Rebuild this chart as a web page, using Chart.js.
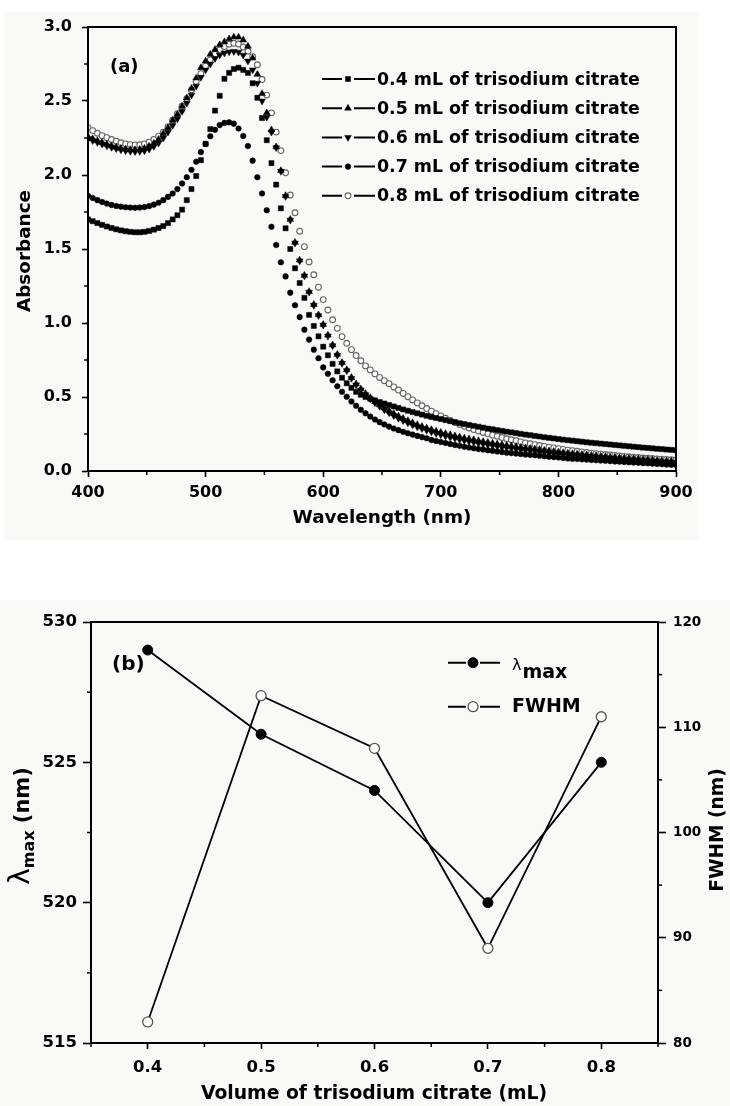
<!DOCTYPE html>
<html><head><meta charset="utf-8">
<script src="https://cdn.jsdelivr.net/npm/chart.js@4.4.1/dist/chart.umd.min.js"></script>
<style>
html,body{margin:0;padding:0;background:#fff;width:730px;height:1106px;overflow:hidden;}
#wa{position:absolute;left:0;top:0;width:730px;height:540px;}
#wb{position:absolute;left:0;top:560px;width:730px;height:546px;}
canvas{display:block;}
</style></head><body>
<div id="wa"><canvas id="ca" width="730" height="540"></canvas></div>
<div id="wb"><canvas id="cb" width="730" height="546"></canvas></div>
<script>
// ---------- Panel (a) data ----------
const wavelengths = [400,404,408,412,416,420,424,428,432,436,440,444,448,452,456,460,464,468,472,476,480,484,488,492,496,500,504,508,512,516,520,524,528,532,536,540,544,548,552,556,560,564,568,572,576,580,584,588,592,596,600,604,608,612,616,620,624,628,632,636,640,644,648,652,656,660,664,668,672,676,680,684,688,692,696,700,704,708,712,716,720,724,728,732,736,740,744,748,752,756,760,764,768,772,776,780,784,788,792,796,800,804,808,812,816,820,824,828,832,836,840,844,848,852,856,860,864,868,872,876,880,884,888,892,896,900];
const abs04 = [1.70,1.688,1.675,1.663,1.652,1.642,1.633,1.626,1.62,1.616,
1.613,1.613,1.616,1.622,1.631,1.642,1.655,1.675,1.70,1.728,
1.766,1.83,1.905,1.993,2.10,2.21,2.31,2.435,2.535,2.65,
2.69,2.716,2.725,2.71,2.69,2.62,2.522,2.385,2.235,2.08,
1.935,1.775,1.64,1.50,1.37,1.27,1.17,1.055,0.98,0.91,
0.84,0.782,0.724,0.673,0.63,0.593,0.562,0.535,0.515,0.50,
0.488,0.477,0.466,0.456,0.446,0.436,0.426,0.416,0.407,0.398,
0.39,0.381,0.373,0.365,0.358,0.351,0.344,0.337,0.33,0.323,
0.317,0.311,0.305,0.299,0.293,0.287,0.282,0.276,0.271,0.266,
0.261,0.256,0.251,0.246,0.242,0.237,0.233,0.228,0.224,0.22,
0.216,0.212,0.208,0.205,0.201,0.198,0.194,0.191,0.188,0.185,
0.182,0.179,0.176,0.173,0.17,0.167,0.164,0.161,0.158,0.156,
0.153,0.15,0.148,0.145,0.143,0.14];
const abs05 = [2.26,2.245,2.232,2.22,2.208,2.197,2.188,2.18,2.175,2.172,
2.171,2.173,2.18,2.195,2.215,2.24,2.28,2.32,2.37,2.41,
2.465,2.52,2.585,2.655,2.725,2.77,2.815,2.848,2.88,2.90,
2.92,2.932,2.932,2.912,2.87,2.79,2.68,2.55,2.42,2.305,
2.19,2.03,1.86,1.70,1.545,1.425,1.322,1.212,1.125,1.055,
0.99,0.918,0.852,0.788,0.733,0.684,0.632,0.588,0.555,0.524,
0.496,0.47,0.447,0.426,0.406,0.388,0.371,0.355,0.34,0.326,
0.313,0.301,0.29,0.28,0.27,0.261,0.253,0.245,0.237,0.23,
0.223,0.217,0.211,0.205,0.199,0.193,0.188,0.183,0.178,0.173,
0.169,0.165,0.16,0.156,0.152,0.148,0.144,0.14,0.136,0.132,
0.128,0.124,0.121,0.118,0.115,0.112,0.109,0.106,0.103,0.1,
0.098,0.095,0.093,0.09,0.088,0.085,0.083,0.081,0.079,0.077,
0.075,0.072,0.07,0.068,0.066,0.064];
const abs06 = [2.245,2.232,2.22,2.208,2.197,2.187,2.178,2.17,2.164,2.16,
2.158,2.159,2.164,2.175,2.193,2.216,2.25,2.29,2.335,2.38,
2.43,2.485,2.54,2.6,2.66,2.71,2.75,2.787,2.81,2.824,
2.832,2.834,2.83,2.81,2.77,2.71,2.62,2.50,2.39,2.29,
2.185,2.025,1.855,1.695,1.54,1.42,1.318,1.208,1.12,1.05,
0.985,0.912,0.846,0.782,0.727,0.678,0.626,0.582,0.548,0.516,
0.487,0.46,0.436,0.414,0.393,0.374,0.356,0.34,0.325,0.311,
0.298,0.286,0.275,0.264,0.254,0.245,0.236,0.228,0.22,0.213,
0.206,0.2,0.194,0.188,0.182,0.177,0.172,0.167,0.162,0.158,
0.153,0.149,0.145,0.141,0.137,0.133,0.129,0.126,0.122,0.119,
0.116,0.112,0.109,0.106,0.103,0.1,0.097,0.095,0.092,0.09,
0.087,0.085,0.082,0.08,0.078,0.075,0.073,0.071,0.069,0.067,
0.065,0.063,0.061,0.059,0.057,0.055];
const abs07 = [1.86,1.845,1.83,1.818,1.807,1.798,1.791,1.786,1.782,1.78,
1.779,1.78,1.783,1.79,1.80,1.813,1.83,1.852,1.875,1.905,
1.943,1.985,2.035,2.09,2.155,2.21,2.262,2.305,2.337,2.352,
2.356,2.347,2.314,2.264,2.196,2.097,1.985,1.875,1.762,1.65,
1.527,1.41,1.315,1.205,1.12,1.04,0.955,0.888,0.82,0.762,
0.70,0.657,0.613,0.573,0.535,0.502,0.47,0.441,0.414,0.39,
0.368,0.348,0.33,0.314,0.30,0.287,0.276,0.265,0.255,0.246,
0.237,0.229,0.221,0.21,0.203,0.196,0.189,0.182,0.176,0.17,
0.164,0.159,0.154,0.149,0.145,0.14,0.136,0.132,0.128,0.124,
0.121,0.118,0.115,0.112,0.109,0.106,0.103,0.10,0.097,0.094,
0.091,0.088,0.085,0.083,0.081,0.079,0.077,0.075,0.073,0.071,
0.069,0.067,0.065,0.063,0.061,0.059,0.057,0.055,0.053,0.052,
0.05,0.048,0.046,0.044,0.042,0.04];
const abs08 = [2.32,2.30,2.282,2.266,2.252,2.24,2.228,2.218,2.21,2.205,
2.203,2.204,2.21,2.222,2.24,2.262,2.29,2.325,2.37,2.415,
2.465,2.515,2.575,2.632,2.685,2.735,2.778,2.815,2.845,2.868,
2.884,2.89,2.885,2.865,2.836,2.80,2.745,2.645,2.54,2.42,
2.29,2.165,2.015,1.865,1.745,1.62,1.516,1.412,1.326,1.242,
1.158,1.088,1.022,0.964,0.908,0.863,0.82,0.78,0.745,0.71,
0.683,0.656,0.632,0.61,0.59,0.568,0.547,0.524,0.502,0.48,
0.46,0.441,0.422,0.404,0.388,0.372,0.356,0.341,0.328,0.315,
0.302,0.291,0.28,0.27,0.26,0.251,0.242,0.234,0.226,0.218,
0.211,0.204,0.197,0.19,0.184,0.178,0.172,0.166,0.161,0.156,
0.151,0.146,0.141,0.137,0.133,0.129,0.125,0.121,0.117,0.114,
0.111,0.108,0.105,0.102,0.099,0.096,0.093,0.091,0.088,0.086,
0.084,0.082,0.08,0.078,0.076,0.074];
const seriesLabels = ['0.4 mL of trisodium citrate','0.5 mL of trisodium citrate','0.6 mL of trisodium citrate','0.7 mL of trisodium citrate','0.8 mL of trisodium citrate'];
const xTicksA = [400,500,600,700,800,900];
const xMinorTicksA = [450,550,650,750,850];
const yTicksA = [0,0.5,1.0,1.5,2.0,2.5,3.0];
const yMinorTicksA = [0.25,0.75,1.25,1.75,2.25,2.75];

// ---------- Panel (b) data ----------
const volumes = [0.4,0.5,0.6,0.7,0.8];
const lambdaMax = [529,526,524,520,525];
const fwhm = [82,113,108,89,111];
const xTicksB = [0.4,0.5,0.6,0.7,0.8];
const xMinorTicksB = [0.35,0.45,0.55,0.65,0.75,0.85];
const yTicksB = [515,520,525,530];
const yMinorTicksB = [517.5,522.5,527.5];
const y2TicksB = [80,90,100,110,120];
const y2MinorTicksB = [85,95,105,115];

const FONT = "'DejaVu Sans', 'Liberation Sans', sans-serif";
const BG = '#f9faf8';
const absSeries = [abs04, abs05, abs06, abs07, abs08];
const markerStyles = [
  {ps:'rect', rot:0, r:3.6, fill:'#000', stroke:'#000', bw:0.5},
  {ps:'triangle', rot:0, r:3.9, fill:'#000', stroke:'#000', bw:0.5},
  {ps:'triangle', rot:180, r:3.9, fill:'#000', stroke:'#000', bw:0.5},
  {ps:'circle', rot:0, r:2.8, fill:'#000', stroke:'#000', bw:0.5},
  {ps:'circle', rot:0, r:2.9, fill:'#fff', stroke:'#666', bw:1.1}
];

function drawMarker(ctx, st, x, y) {
  ctx.save();
  ctx.fillStyle = st.fill; ctx.strokeStyle = st.stroke; ctx.lineWidth = st.bw;
  Chart.helpers.drawPoint(ctx, {pointStyle: st.ps, rotation: st.rot, radius: st.r, borderWidth: st.bw}, x, y);
  ctx.restore();
}
function tickFont(sz){ return {family: FONT, weight: 'bold', size: sz}; }
function gridOpts(len){ return {drawOnChartArea:false, drawTicks:true, tickLength:len, tickWidth:1.6, tickColor:'#000', color:'#000'}; }
const borderOpts = {color:'#000', width:2};

const plugA = {
  id: 'decoA',
  beforeDraw(chart) {
    const c = chart.ctx; c.save(); c.fillStyle = BG; c.fillRect(4, 12, 694, 528); c.restore();
  },
  afterDraw(chart) {
    const c = chart.ctx, a = chart.chartArea, xs = chart.scales.x, ys = chart.scales.y;
    c.save();
    c.strokeStyle = '#000'; c.lineWidth = 2;
    c.strokeRect(a.left, a.top, a.right - a.left, a.bottom - a.top);
    c.lineWidth = 1.5;
    xMinorTicksA.forEach(v => { const p = xs.getPixelForValue(v); c.beginPath(); c.moveTo(p, a.bottom); c.lineTo(p, a.bottom + 4); c.stroke(); });
    yMinorTicksA.forEach(v => { const p = ys.getPixelForValue(v); c.beginPath(); c.moveTo(a.left - 4, p); c.lineTo(a.left, p); c.stroke(); });
    c.fillStyle = '#000';
    c.font = `bold 18px ${FONT}`; c.textAlign = 'left'; c.textBaseline = 'middle';
    c.fillText('(a)', 110, 67);
    c.font = `bold 18.4px ${FONT}`; c.textAlign = 'center';
    c.fillText('Wavelength (nm)', 382, 518);
    c.save(); c.translate(25, 251); c.rotate(-Math.PI / 2); c.fillText('Absorbance', 0, 0); c.restore();
    // legend
    c.font = `bold 17.4px ${FONT}`; c.textAlign = 'left';
    seriesLabels.forEach((lab, k) => {
      const y = 79 + k * 29.2;
      c.strokeStyle = '#000'; c.lineWidth = 2;
      c.beginPath(); c.moveTo(322, y); c.lineTo(342, y); c.moveTo(354, y); c.lineTo(375, y); c.stroke();
      drawMarker(c, markerStyles[k], 348, y);
      c.fillStyle = '#000';
      c.fillText(lab, 377, y + 1);
    });
    c.restore();
  }
};

new Chart(document.getElementById('ca'), {
  type: 'scatter',
  data: {
    datasets: absSeries.map((arr, k) => ({
      label: seriesLabels[k],
      data: arr.map((v, i) => ({x: wavelengths[i], y: v})),
      showLine: false,
      pointStyle: markerStyles[k].ps,
      pointRotation: markerStyles[k].rot,
      pointRadius: markerStyles[k].r,
      pointHoverRadius: markerStyles[k].r,
      pointBackgroundColor: markerStyles[k].fill,
      pointBorderColor: markerStyles[k].stroke,
      pointBorderWidth: markerStyles[k].bw
    }))
  },
  options: {
    responsive: false, animation: false, events: [],
    layout: {padding: {top: 27, right: 54, left: 0, bottom: 0}},
    plugins: {legend: {display: false}, tooltip: {enabled: false}},
    scales: {
      x: {type: 'linear', min: 400, max: 900,
        afterBuildTicks: s => { s.ticks = xTicksA.map(v => ({value: v})); },
        afterFit: s => { s.height = 69; },
        ticks: {color: '#000', font: tickFont(16), padding: 6, autoSkip: false, maxRotation: 0, callback: v => String(v)},
        grid: gridOpts(6), border: borderOpts},
      y: {type: 'linear', min: 0, max: 3,
        afterBuildTicks: s => { s.ticks = yTicksA.map(v => ({value: v})); },
        afterFit: s => { s.width = 88; },
        ticks: {color: '#000', font: tickFont(16), padding: 10, autoSkip: false, callback: v => Number(v).toFixed(1)},
        grid: gridOpts(6), border: borderOpts}
    }
  },
  plugins: [plugA]
});

// ---------- Panel (b) ----------
const stFilled = {ps:'circle', rot:0, r:5, fill:'#000', stroke:'#000', bw:1};
const stOpen = {ps:'circle', rot:0, r:5, fill:'#fff', stroke:'#555', bw:1.3};

const plugB = {
  id: 'decoB',
  beforeDraw(chart) {
    const c = chart.ctx; c.save(); c.fillStyle = BG; c.fillRect(0, 40, 730, 506); c.restore();
  },
  afterDraw(chart) {
    const c = chart.ctx, a = chart.chartArea, xs = chart.scales.x, ys = chart.scales.y, y2 = chart.scales.y2;
    c.save();
    c.strokeStyle = '#000'; c.lineWidth = 2;
    c.beginPath(); c.moveTo(a.left - 1, a.top); c.lineTo(a.right + 1, a.top); c.stroke();
    c.lineWidth = 1.5;
    xMinorTicksB.forEach(v => { const p = xs.getPixelForValue(v); c.beginPath(); c.moveTo(p, a.bottom); c.lineTo(p, a.bottom + 4); c.stroke(); });
    yMinorTicksB.forEach(v => { const p = ys.getPixelForValue(v); c.beginPath(); c.moveTo(a.left - 4, p); c.lineTo(a.left, p); c.stroke(); });
    y2MinorTicksB.forEach(v => { const p = y2.getPixelForValue(v); c.beginPath(); c.moveTo(a.right, p); c.lineTo(a.right + 4, p); c.stroke(); });
    c.fillStyle = '#000';
    c.font = `bold 20px ${FONT}`; c.textAlign = 'left'; c.textBaseline = 'middle';
    c.fillText('(b)', 112, 105);
    // x title
    c.font = `bold 18.8px ${FONT}`; c.textAlign = 'center';
    c.fillText('Volume of trisodium citrate (mL)', 374, 534);
    // right title
    c.save(); c.translate(718, 270); c.rotate(-Math.PI / 2);
    c.font = `bold 18.6px ${FONT}`; c.fillText('FWHM (nm)', 0, 0); c.restore();
    // left title lambda_max (nm)
    c.save();
    c.textAlign = 'left'; c.textBaseline = 'alphabetic';
    const fL = `28px ${FONT}`, fM = `bold 16px ${FONT}`, fN = `bold 21px ${FONT}`;
    c.font = fL; const wL = c.measureText('λ').width;
    c.font = fM; const wM = c.measureText('max').width;
    c.font = fN; const wN = c.measureText(' (nm)').width;
    const tot = wL + wM + wN;
    c.translate(29, 266 + tot / 2); c.rotate(-Math.PI / 2);
    c.font = fL; c.fillText('λ', 0, 0);
    c.font = fM; c.fillText('max', wL, 5);
    c.font = fN; c.fillText(' (nm)', wL + wM, 0);
    c.restore();
    // legend
    const rows = [{y: 102.7, st: stFilled}, {y: 146.7, st: stOpen}];
    rows.forEach(r => {
      c.strokeStyle = '#000'; c.lineWidth = 2;
      c.beginPath(); c.moveTo(448, r.y); c.lineTo(466, r.y); c.moveTo(480, r.y); c.lineTo(500, r.y); c.stroke();
      drawMarker(c, r.st, 473, r.y);
    });
    c.fillStyle = '#000'; c.textAlign = 'left'; c.textBaseline = 'alphabetic';
    c.font = `16px ${FONT}`; c.fillText('λ', 512, 110);
    const lw = c.measureText('λ').width;
    c.font = `bold 19px ${FONT}`; c.fillText('max', 512 + lw + 1, 118);
    c.textBaseline = 'middle';
    c.fillText('FWHM', 512, 147);
    c.restore();
  }
};

new Chart(document.getElementById('cb'), {
  type: 'line',
  data: {
    datasets: [
      {label: 'λmax', yAxisID: 'y', data: volumes.map((v, i) => ({x: v, y: lambdaMax[i]})),
        borderColor: '#000', borderWidth: 1.8, tension: 0, fill: false,
        pointStyle: 'circle', pointRadius: 5, pointHoverRadius: 5,
        pointBackgroundColor: '#000', pointBorderColor: '#000', pointBorderWidth: 1},
      {label: 'FWHM', yAxisID: 'y2', data: volumes.map((v, i) => ({x: v, y: fwhm[i]})),
        borderColor: '#000', borderWidth: 1.8, tension: 0, fill: false,
        pointStyle: 'circle', pointRadius: 5, pointHoverRadius: 5,
        pointBackgroundColor: '#fff', pointBorderColor: '#555', pointBorderWidth: 1.3}
    ]
  },
  options: {
    responsive: false, animation: false, events: [],
    layout: {padding: {top: 62, right: 0, left: 0, bottom: 0}},
    plugins: {legend: {display: false}, tooltip: {enabled: false}},
    scales: {
      x: {type: 'linear', min: 0.35, max: 0.85,
        afterBuildTicks: s => { s.ticks = xTicksB.map(v => ({value: v})); },
        afterFit: s => { s.height = 63; },
        ticks: {color: '#000', font: tickFont(16.5), padding: 9, autoSkip: false, maxRotation: 0, callback: v => Number(v).toFixed(1)},
        grid: gridOpts(6), border: borderOpts},
      y: {type: 'linear', position: 'left', min: 515, max: 530,
        afterBuildTicks: s => { s.ticks = yTicksB.map(v => ({value: v})); },
        afterFit: s => { s.width = 91; },
        ticks: {color: '#000', font: tickFont(16.5), padding: 6, autoSkip: false, callback: v => String(v)},
        grid: gridOpts(8), border: borderOpts},
      y2: {type: 'linear', position: 'right', min: 80, max: 120,
        afterBuildTicks: s => { s.ticks = y2TicksB.map(v => ({value: v})); },
        afterFit: s => { s.width = 72; },
        ticks: {color: '#000', font: tickFont(13.5), padding: 7, autoSkip: false, callback: v => String(v)},
        grid: gridOpts(8), border: borderOpts}
    }
  },
  plugins: [plugB]
});
</script>
</body></html>
